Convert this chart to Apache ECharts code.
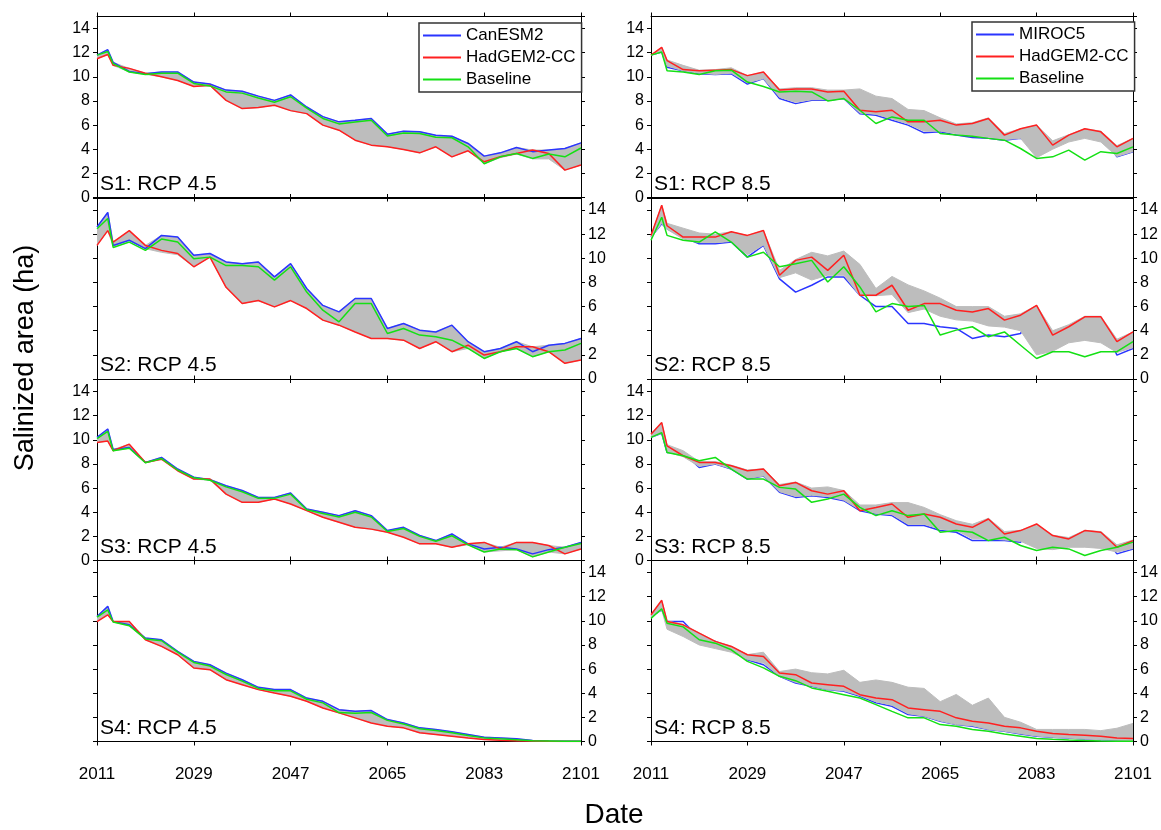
<!DOCTYPE html>
<html><head><meta charset="utf-8">
<script src="https://cdn.jsdelivr.net/npm/echarts@6/dist/echarts.min.js"></script>
<style>html,body{margin:0;padding:0;background:#fff}#c{width:1161px;height:830px}</style>
</head><body><div id="c"></div>
<script>
// ---------- data ----------
const years = [2011,2013,2014,2017,2020,2023,2026,2029,2032,2035,2038,2041,2044,2047,2050,2053,2056,2059,2062,2065,2068,2071,2074,2077,2080,2083,2086,2089,2092,2095,2098,2101];
const xTickLabels = ['2011','2029','2047','2065','2083','2101'];
const yTickLabels = ['0','2','4','6','8','10','12','14'];
const panelLabels = ['S1: RCP 4.5','S1: RCP 8.5','S2: RCP 4.5','S2: RCP 8.5','S3: RCP 4.5','S3: RCP 8.5','S4: RCP 4.5','S4: RCP 8.5'];
const modelNamesLeft = ['CanESM2','HadGEM2-CC','Baseline'];
const modelNamesRight = ['MIROC5','HadGEM2-CC','Baseline'];

// S1 RCP 4.5
const s1r45Blue  = [11.8,12.25,11.2,10.45,10.25,10.4,10.4,9.57,9.4,8.9,8.8,8.4,8.05,8.5,7.5,6.7,6.27,6.4,6.55,5.25,5.5,5.45,5.15,5.08,4.48,3.43,3.7,4.15,3.8,3.93,4.06,4.53];
const s1r45Red   = [11.5,11.85,10.95,10.7,10.3,10.0,9.7,9.2,9.3,8.05,7.37,7.45,7.65,7.2,6.95,6.0,5.58,4.75,4.34,4.2,3.98,3.7,4.2,3.37,3.87,2.96,3.37,3.65,3.93,3.65,2.27,2.69];
const s1r45Green = [11.8,12.1,11.1,10.4,10.2,10.3,10.3,9.45,9.25,8.75,8.65,8.25,7.9,8.35,7.4,6.55,6.1,6.25,6.4,5.1,5.35,5.3,5.0,4.95,4.2,2.8,3.37,3.65,3.24,3.6,3.37,4.1];
const s1r45Low   = [11.5,11.85,10.95,10.4,10.2,10.0,9.7,9.2,9.25,8.05,7.37,7.45,7.65,7.2,6.95,6.0,5.58,4.75,4.34,4.2,3.98,3.7,4.2,3.37,3.87,2.8,3.3,3.6,3.2,3.2,2.27,2.69];
const s1r45High  = [11.8,12.25,11.2,10.7,10.3,10.4,10.4,9.57,9.4,8.9,8.8,8.4,8.05,8.5,7.5,6.7,6.27,6.4,6.55,5.25,5.5,5.45,5.15,5.08,4.48,3.43,3.7,4.15,3.93,3.93,4.06,4.53];
// S1 RCP 8.5
const s1r85Blue  = [11.8,12.05,10.8,10.5,10.25,10.2,10.25,9.4,9.85,8.2,7.78,8.05,8.05,8.2,6.95,6.82,6.4,6.0,5.36,5.44,5.17,4.97,4.9,4.75,4.9,4.34,4.25,5.05,5.55,5.3,3.37,3.79];
const s1r85Red   = [11.8,12.45,11.35,10.6,10.5,10.55,10.6,10.1,10.4,8.9,9.0,9.0,8.75,8.8,7.23,7.1,7.23,6.27,6.27,6.4,6.0,6.13,6.54,5.17,5.7,6.0,4.34,5.17,5.7,5.44,4.2,4.9];
const s1r85Green = [11.8,12.05,10.5,10.4,10.2,10.5,10.55,9.57,9.2,8.75,8.8,8.75,8.0,8.2,7.23,6.13,6.68,6.4,6.4,5.3,5.17,5.08,4.9,4.75,4.06,3.24,3.37,3.93,3.1,3.8,3.65,4.2];
const s1r85Low   = [11.8,12.05,10.9,10.5,10.3,10.2,10.3,9.5,9.85,8.3,7.9,8.1,8.1,8.2,7.0,6.9,6.5,6.1,5.5,5.5,5.3,5.1,5.0,4.8,4.9,3.3,4.0,4.6,4.9,4.6,3.4,3.8];
const s1r85High  = [11.8,12.45,11.4,10.95,10.55,10.6,10.75,10.1,10.4,9.0,9.1,9.1,8.9,8.9,9.0,8.4,8.2,7.3,7.2,6.6,6.1,6.2,6.6,5.3,5.7,6.0,4.7,5.2,5.7,5.5,4.3,4.9];
// S2 RCP 4.5
const s2r45Blue  = [12.6,13.8,11.07,11.5,10.8,11.9,11.76,10.25,10.4,9.7,9.56,9.7,8.46,9.56,7.5,6.1,5.56,6.67,6.67,4.19,4.6,4.05,3.9,4.46,3.09,2.26,2.53,3.09,2.26,2.8,2.95,3.36];
const s2r45Red   = [11.07,12.3,11.35,12.3,11.07,10.66,10.4,9.3,10.1,7.6,6.25,6.5,5.98,6.5,5.84,4.88,4.46,3.9,3.36,3.36,3.22,2.53,3.09,2.26,2.8,1.98,2.26,2.67,2.67,2.26,1.3,1.57];
const s2r45Green = [12.45,13.3,10.9,11.35,10.66,11.6,11.35,9.97,10.1,9.4,9.4,9.3,8.2,9.3,7.2,5.7,4.74,6.25,6.25,3.77,4.19,3.64,3.5,3.22,2.53,1.7,2.26,2.53,1.85,2.26,2.4,2.95];
const s2r45Low   = [11.07,12.3,11.0,11.5,10.8,10.5,10.3,9.3,10.1,7.6,6.25,6.5,5.98,6.5,5.84,4.88,4.46,3.9,3.36,3.36,3.22,2.53,3.09,2.26,2.53,1.7,2.26,2.53,1.85,2.26,1.3,1.57];
const s2r45High  = [12.6,13.8,11.35,12.3,11.07,11.9,11.76,10.25,10.4,9.7,9.56,9.7,8.46,9.56,7.5,6.1,5.56,6.67,6.67,4.19,4.6,4.05,3.9,4.46,3.09,2.26,2.53,3.09,2.67,2.8,2.95,3.36];
// S2 RCP 8.5
const s2r85Blue  = [11.76,12.86,12.45,11.76,11.2,11.2,11.35,10.1,11.07,8.3,7.2,7.77,8.46,8.46,6.94,6.0,6.0,4.6,4.6,4.33,4.19,3.36,3.64,3.5,3.77,5.9,3.6,4.25,5.1,5.1,1.98,2.53];
const s2r85Red   = [11.9,14.4,12.7,11.76,11.76,11.76,12.2,11.9,12.3,8.6,9.83,10.1,9.0,10.25,6.94,6.94,7.77,5.7,6.25,6.25,5.7,5.56,5.84,4.88,5.29,6.1,3.64,4.33,5.15,5.15,3.09,3.9];
const s2r85Green = [11.5,13.4,11.9,11.5,11.35,12.2,11.35,10.1,10.5,9.3,9.56,9.83,8.04,9.3,7.63,5.56,6.25,6.0,6.1,3.64,4.05,4.33,3.5,3.9,2.8,1.7,2.26,2.26,1.85,2.26,2.26,3.09];
const s2r85Low   = [11.7,12.9,12.4,11.6,11.3,11.3,11.4,10.3,11.1,8.4,8.8,8.2,8.6,8.6,6.9,6.9,7.0,5.5,5.8,5.2,4.9,4.8,4.4,4.3,4.0,2.0,2.3,3.0,3.2,3.0,2.2,2.6];
const s2r85High  = [11.9,14.4,12.9,12.5,12.1,12.0,12.2,11.9,12.3,9.0,9.9,10.5,10.2,10.6,9.5,7.5,8.5,7.8,7.3,6.7,6.0,6.0,6.0,5.2,5.4,6.1,4.0,4.5,5.2,5.2,3.3,3.9];
// S3 RCP 4.5
const s3r45Blue  = [10.2,10.9,9.2,9.37,8.13,8.54,7.58,6.9,6.7,6.2,5.8,5.23,5.23,5.6,4.27,4.0,3.72,4.13,3.72,2.48,2.75,2.07,1.65,2.2,1.38,0.96,1.1,0.96,0.55,0.9,1.1,1.5];
const s3r45Red   = [9.78,9.9,9.1,9.64,8.13,8.4,7.44,6.75,6.75,5.5,4.82,4.82,5.1,4.68,4.13,3.58,3.17,2.75,2.6,2.34,1.93,1.38,1.38,1.1,1.38,1.5,0.96,1.5,1.5,1.24,0.55,0.96];
const s3r45Green = [10.1,10.7,9.1,9.3,8.1,8.45,7.5,6.85,6.65,6.1,5.7,5.15,5.15,5.5,4.2,3.9,3.6,4.0,3.6,2.4,2.65,2.0,1.6,2.05,1.3,0.7,0.96,0.9,0.3,0.7,1.1,1.4];
const s3r45Low   = [9.78,9.9,9.1,9.3,8.1,8.4,7.44,6.75,6.65,5.5,4.82,4.82,5.1,4.68,4.13,3.58,3.17,2.75,2.6,2.34,1.93,1.38,1.38,1.1,1.3,0.7,0.8,0.9,0.3,0.7,0.55,0.96];
const s3r45High  = [10.2,10.9,9.2,9.64,8.13,8.54,7.58,6.9,6.75,6.2,5.8,5.23,5.23,5.6,4.27,4.0,3.72,4.13,3.72,2.48,2.75,2.07,1.65,2.2,1.38,1.5,1.1,1.5,1.5,1.24,1.1,1.5];
// S3 RCP 8.5
const s3r85Blue  = [10.2,10.55,8.95,8.95,7.71,8.0,7.58,6.75,7.0,5.65,5.23,5.37,5.23,4.96,4.13,3.86,3.72,2.9,2.9,2.48,2.34,1.65,1.65,1.65,1.52,2.95,2.0,1.75,2.4,2.3,0.55,0.96];
const s3r85Red   = [10.47,11.43,9.5,8.68,8.13,8.13,7.85,7.44,7.58,6.2,6.47,5.78,5.5,5.78,4.13,4.4,4.68,3.58,3.86,3.58,3.03,2.75,3.44,2.2,2.48,3.03,2.07,1.79,2.48,2.34,1.1,1.65];
const s3r85Green = [10.2,10.6,8.95,8.68,8.26,8.54,7.58,6.75,6.75,6.06,5.92,4.82,5.1,5.5,4.4,3.72,4.13,3.72,3.86,2.34,2.48,2.34,1.65,1.93,1.24,0.83,1.1,0.96,0.41,0.83,1.1,1.52];
const s3r85Low   = [10.2,10.55,9.0,8.6,7.8,8.0,7.6,6.8,7.0,5.7,5.3,5.4,5.3,5.0,4.2,3.9,3.8,3.0,3.0,2.6,2.5,1.8,1.8,1.7,1.6,1.0,0.9,1.1,1.1,1.0,0.7,1.0];
const s3r85High  = [10.5,11.43,9.6,9.1,8.2,8.2,7.9,7.5,7.6,6.3,6.5,6.0,6.1,5.8,4.6,4.6,4.8,4.8,4.4,3.8,3.3,3.0,3.5,2.4,2.5,3.0,2.1,1.9,2.5,2.4,1.3,1.7];
// S4 RCP 4.5
const s4r45Blue  = [10.36,11.2,9.94,9.67,8.57,8.43,7.47,6.64,6.36,5.67,5.12,4.49,4.3,4.3,3.6,3.33,2.64,2.5,2.56,1.82,1.54,1.13,0.99,0.8,0.58,0.36,0.3,0.22,0.08,0.05,0.03,0.02];
const s4r45Red   = [9.94,10.5,9.94,9.94,8.43,7.88,7.19,6.09,5.95,5.12,4.71,4.3,4.02,3.75,3.33,2.78,2.37,1.96,1.54,1.27,1.13,0.72,0.58,0.44,0.3,0.17,0.1,0.06,0.04,0.02,0.01,0.0];
const s4r45Green = [10.3,10.9,9.9,9.6,8.5,8.35,7.4,6.55,6.25,5.55,5.0,4.4,4.2,4.2,3.5,3.2,2.4,2.35,2.4,1.75,1.45,1.05,0.92,0.72,0.5,0.3,0.22,0.15,0.06,0.04,0.02,0.02];
const s4r45Low   = [9.94,10.5,9.9,9.6,8.43,7.88,7.19,6.09,5.95,5.12,4.71,4.3,4.02,3.75,3.33,2.78,2.37,1.96,1.54,1.27,1.13,0.72,0.58,0.44,0.3,0.17,0.1,0.06,0.04,0.02,0.01,0.0];
const s4r45High  = [10.36,11.2,9.94,9.94,8.57,8.43,7.47,6.64,6.36,5.67,5.12,4.49,4.3,4.3,3.6,3.33,2.64,2.5,2.56,1.82,1.54,1.13,0.99,0.8,0.58,0.36,0.3,0.22,0.08,0.05,0.03,0.02];
// S4 RCP 8.5
const s4r85Blue  = [10.36,10.9,9.94,9.94,8.57,8.3,7.74,6.78,6.36,5.4,4.85,4.57,4.3,4.16,3.75,3.2,2.92,2.23,2.09,1.68,1.4,1.27,0.99,0.85,0.63,0.44,0.35,0.28,0.2,0.15,0.1,0.08];
const s4r85Red   = [10.5,11.7,9.94,9.67,8.98,8.3,7.88,7.19,7.05,5.67,5.54,4.85,4.71,4.57,3.88,3.6,3.47,2.78,2.64,2.5,1.96,1.68,1.54,1.27,1.13,0.85,0.66,0.58,0.52,0.44,0.3,0.25];
const s4r85Green = [10.2,11.0,9.8,9.5,8.43,8.15,7.6,6.64,6.1,5.4,5.04,4.44,4.16,3.88,3.6,3.06,2.5,1.96,1.96,1.4,1.27,0.99,0.85,0.63,0.44,0.25,0.18,0.12,0.08,0.05,0.03,0.02];
const s4r85Low   = [10.3,10.9,9.3,8.7,8.0,7.7,7.4,6.8,6.5,5.4,4.9,4.6,4.3,4.2,3.8,3.3,3.0,2.3,2.1,1.7,1.4,1.3,1.0,0.85,0.65,0.45,0.35,0.28,0.2,0.15,0.1,0.08];
const s4r85High  = [10.5,11.7,10.0,9.7,9.0,8.3,7.9,7.2,7.4,5.8,6.0,5.7,5.6,5.9,4.9,5.1,4.9,4.5,4.4,3.3,3.9,3.0,3.6,2.0,1.6,1.0,1.0,1.0,1.0,0.9,1.1,1.5];

// ---------- layout / style ----------
const panels = [
  {blue:s1r45Blue, red:s1r45Red, green:s1r45Green, low:s1r45Low, high:s1r45High},
  {blue:s1r85Blue, red:s1r85Red, green:s1r85Green, low:s1r85Low, high:s1r85High},
  {blue:s2r45Blue, red:s2r45Red, green:s2r45Green, low:s2r45Low, high:s2r45High},
  {blue:s2r85Blue, red:s2r85Red, green:s2r85Green, low:s2r85Low, high:s2r85High},
  {blue:s3r45Blue, red:s3r45Red, green:s3r45Green, low:s3r45Low, high:s3r45High},
  {blue:s3r85Blue, red:s3r85Red, green:s3r85Green, low:s3r85Low, high:s3r85High},
  {blue:s4r45Blue, red:s4r45Red, green:s4r45Green, low:s4r45Low, high:s4r45High},
  {blue:s4r85Blue, red:s4r85Red, green:s4r85Green, low:s4r85Low, high:s4r85High}
];
const colLeft = [97, 651], colWidth = [484, 482];
const rowTop = [16.5, 198, 379.5, 560.5], rowH = 181;
const FONT = 'Liberation Sans, Arial, Helvetica, sans-serif';
const BLUE = '#2a35ff', RED = '#ff2020', GREEN = '#14e014', GREY = '#bdbdbd';

const grids = [], xAxes = [], yAxes = [], series = [], graphics = [];
panels.forEach((p, g) => {
  const col = g % 2, row = Math.floor(g / 2);
  grids.push({left: colLeft[col], top: rowTop[row], width: colWidth[col], height: rowH, containLabel: false});
  const axLine = {show: true, onZero: false, lineStyle: {color: '#000', width: 1}};
  const tick = {show: true, inside: false, length: 4, lineStyle: {color: '#000'}};
  xAxes.push({gridIndex: g, type: 'value', position: 'bottom', min: 0, max: 90, interval: 18,
    axisLine: axLine, axisTick: tick, splitLine: {show: false},
    axisLabel: {show: row === 3, margin: 24, fontSize: 17, fontFamily: FONT, color: '#000',
      formatter: v => xTickLabels[Math.round(v / 18)]}});
  xAxes.push({gridIndex: g, type: 'value', position: 'top', min: 0, max: 90, interval: 18,
    axisLine: axLine, axisTick: tick, splitLine: {show: false}, axisLabel: {show: false}});
  const yl = (pos, show) => ({gridIndex: g, type: 'value', position: pos, min: 0, max: 15, interval: 2,
    axisLine: axLine, axisTick: tick, splitLine: {show: false},
    axisLabel: {show: show, margin: 7, fontSize: 16, fontFamily: FONT, color: '#000', showMaxLabel: false,
      formatter: v => (v <= 14 ? yTickLabels[v / 2] : '')}});
  yAxes.push(yl('left', row % 2 === 0));
  yAxes.push(yl('right', row % 2 === 1));
  const xi = 2 * g, yi = 2 * g;
  const pts = arr => arr.map((v, i) => [years[i] - 2011, v]);
  const line = (name, arr, color, z) => ({type: 'line', name: name, xAxisIndex: xi, yAxisIndex: yi, data: pts(arr),
    symbol: 'none', showSymbol: false, z: z, silent: true, animation: false,
    lineStyle: {color: color, width: 1.5}, itemStyle: {color: color}});
  const names = col === 0 ? modelNamesLeft : modelNamesRight;
  const blueZ = col === 0 ? 4 : 2;
  series.push(line(names[0], p.blue, BLUE, blueZ));
  // grey envelope polygon drawn through the axis scales
  series.push({type: 'custom', name: 'band' + g, xAxisIndex: xi, yAxisIndex: yi, coordinateSystem: 'cartesian2d',
    data: [[0, 0]], z: 3, silent: true, animation: false, clip: true,
    renderItem: (params, api) => {
      const top = p.high.map((v, i) => api.coord([years[i] - 2011, v]));
      const bot = p.low.map((v, i) => api.coord([years[i] - 2011, v])).reverse();
      return {type: 'polygon', shape: {points: top.concat(bot)}, style: {fill: GREY, stroke: GREY, lineWidth: 1}};
    }});
  series.push(line(names[1], p.red, RED, 5));
  series.push(line(names[2], p.green, GREEN, 6));
  graphics.push({type: 'text', left: colLeft[col] + 3, top: rowTop[row] + rowH - 24, z: 10,
    style: {text: panelLabels[g], fontSize: 21, fontFamily: FONT, fill: '#000'}});
});

graphics.push({type: 'text', x: 26, y: 358, rotation: Math.PI / 2, z: 10,
  style: {text: 'Salinized area (ha)', fontSize: 27, fontFamily: FONT, fill: '#000', align: 'center', verticalAlign: 'middle'}});
graphics.push({type: 'text', x: 614, y: 815, z: 10,
  style: {text: 'Date', fontSize: 28, fontFamily: FONT, fill: '#000', align: 'center', verticalAlign: 'middle'}});

const legendBase = {orient: 'vertical', selectedMode: false, icon: 'rect', itemWidth: 38, itemHeight: 2, itemGap: 3,
  padding: [3, 6, 3, 4], borderColor: '#333', borderWidth: 1.5, backgroundColor: '#fff',
  textStyle: {fontSize: 17, fontFamily: FONT, color: '#000', lineHeight: 19}, z: 20};
const option = {
  animation: false,
  backgroundColor: '#fff',
  grid: grids, xAxis: xAxes, yAxis: yAxes, series: series, graphic: graphics,
  legend: [
    Object.assign({}, legendBase, {data: modelNamesLeft, left: 419, top: 23}),
    Object.assign({}, legendBase, {data: modelNamesRight, left: 972, top: 22})
  ]
};
const chart = echarts.init(document.getElementById('c'), null, {renderer: 'canvas'});
chart.setOption(option);
</script></body></html>
